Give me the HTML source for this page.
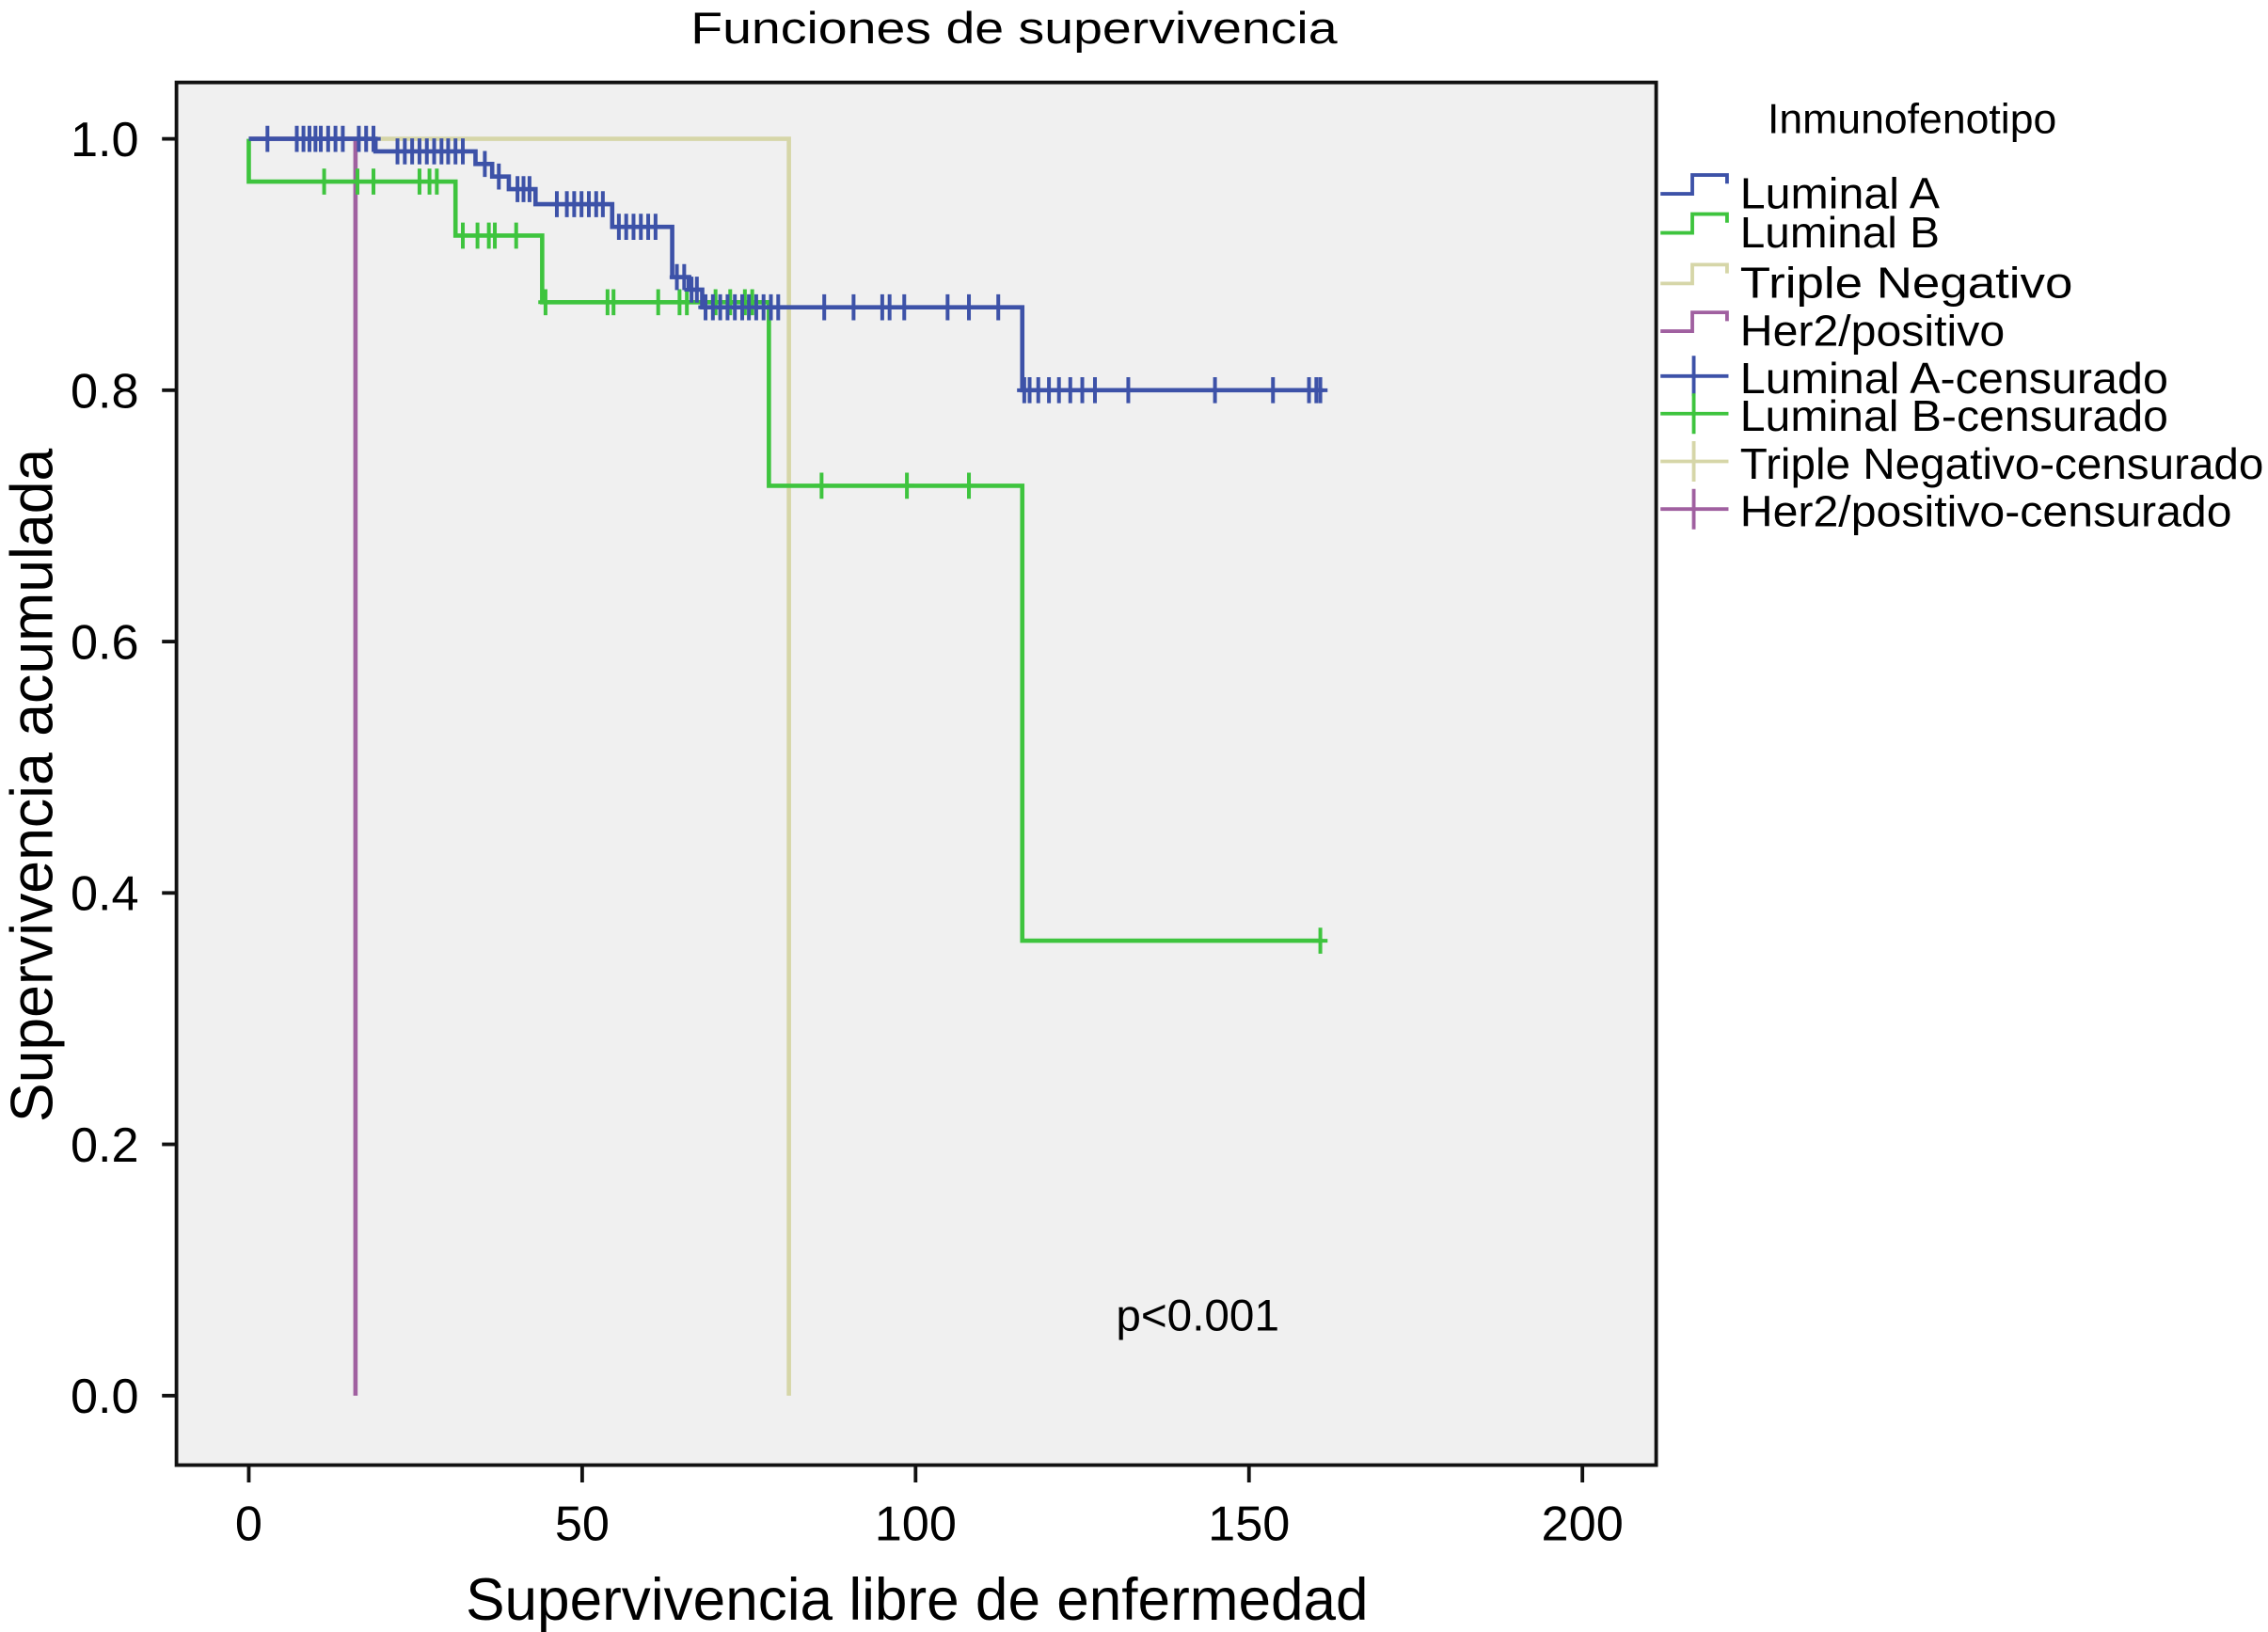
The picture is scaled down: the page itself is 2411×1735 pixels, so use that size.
<!DOCTYPE html>
<html><head><meta charset="utf-8"><style>html,body{margin:0;padding:0;background:#fff}svg{display:block}text{font-family:"Liberation Sans",Arial,sans-serif;fill:#000}</style></head>
<body>
<svg id="chart" width="2411" height="1735" viewBox="0 0 1568 1128.4" preserveAspectRatio="none" xmlns="http://www.w3.org/2000/svg">
<rect x="122" y="57" width="1023" height="956" fill="#f0f0f0" stroke="#111" stroke-width="2.5"/>
<text x="701" y="30" font-size="31" text-anchor="middle" textLength="447" lengthAdjust="spacingAndGlyphs">Funciones de supervivencia</text>
<text x="634" y="1120" font-size="41" text-anchor="middle" textLength="624" lengthAdjust="spacingAndGlyphs">Supervivencia libre de enfermedad</text>
<text transform="translate(36,543) rotate(-90)" font-size="41" text-anchor="middle" textLength="466" lengthAdjust="spacingAndGlyphs">Supervivencia acumulada</text>
<text x="828" y="920" font-size="31" text-anchor="middle">p&lt;0.001</text>
<g id="axes"></g>
<g id="series"></g>
<g id="legend"></g>
</svg>
<script>
const xTicks = [0, 50, 100, 150, 200];
const yTicks = [0.0, 0.2, 0.4, 0.6, 0.8, 1.0];
const seriesNames = ["Luminal A", "Luminal B", "Triple Negativo", "Her2/positivo"];
const seriesColors = ["#3d52a8", "#3ec43e", "#d6d6a8", "#a060a0"];
const lumA_t = [0, 19, 34, 36.5, 39, 43, 54.5, 63.5, 66, 68, 116, 161];
const lumA_s = [1.0, 0.99, 0.98, 0.97, 0.96, 0.948, 0.93, 0.89, 0.88, 0.866, 0.80, 0.80];
const lumB_t = [0, 0, 31, 44, 78, 116, 161];
const lumB_s = [1.0, 0.966, 0.923, 0.87, 0.724, 0.362, 0.362];
const tn_t = [0, 81, 81];
const tn_s = [1.0, 1.0, 0.0];
const her_t = [0, 16, 16];
const her_s = [1.0, 1.0, 0.0];
const lumA_cens_t = [2.8,7.2,8.2,9.1,10,10.8,11.9,13,14.1,16.5,17.6,18.7,22.3,23.4,24.5,25.6,26.7,27.8,28.9,29.9,31,32.1,35.4,37.5,40.3,41.2,42.1,46.2,47.7,48.8,49.9,51,52.1,53.1,55.5,56.6,57.7,58.8,59.9,61,64.2,65.3,66.4,67.2,68.5,69.6,70.7,71.8,72.9,74,75,76.1,77.2,78.3,79.4,86.3,90.7,95,96.1,98.3,104.8,108,112.4,116.3,117.1,118.4,120,121.5,123.2,125,126.9,131.9,144.9,153.6,159,160.1,160.7];
const lumB_cens_t = [11.3,16.3,18.7,25.6,27.1,28.2,32.1,34.3,36,36.9,40.1,44.5,53.8,54.7,61.4,64.6,65.7,70,72.2,74.4,75.5,85.9,98.7,108,160.7];

const NS = "http://www.w3.org/2000/svg";
const X = t => 172 + t * (1094 - 172) / 200;
const Y = s => 965 - s * (965 - 96);
function mk(tag, attrs, parent) {
  const e = document.createElementNS(NS, tag);
  for (const k in attrs) e.setAttribute(k, attrs[k]);
  parent.appendChild(e);
  return e;
}
const axes = document.getElementById('axes');
xTicks.forEach(v => {
  const l = mk('line', {x1: X(v), x2: X(v), y1: 1013, y2: 1025, stroke: '#111', 'stroke-width': 2.5}, axes);
  
  
  const t = mk('text', {x: X(v), y: 1065, 'font-size': 34, 'text-anchor': 'middle'}, axes);
  t.textContent = String(v);
  
  
});
yTicks.forEach(v => {
  const l = mk('line', {x1: 112, x2: 122, y1: Y(v), y2: Y(v), stroke: '#111', 'stroke-width': 2.5}, axes);
  
  
  const t = mk('text', {x: 96, y: Y(v) + 12, 'font-size': 34, 'text-anchor': 'end'}, axes);
  t.textContent = v.toFixed(1);
  
  
});
function stepPath(ts, ss) {
  let d = 'M' + X(ts[0]) + ',' + Y(ss[0]);
  for (let i = 1; i < ts.length; i++) {
    d += ' L' + X(ts[i]) + ',' + Y(ss[i - 1]) + ' L' + X(ts[i]) + ',' + Y(ss[i]);
  }
  return d;
}
function survAt(ts, ss, t) {
  let s = ss[0];
  for (let i = 0; i < ts.length; i++) if (ts[i] <= t) s = ss[i];
  return s;
}
const sg = document.getElementById('series');
const curves = [[tn_t, tn_s, 2, 'triple-negativo-curve'], [her_t, her_s, 3, 'her2-positivo-curve'], [lumB_t, lumB_s, 1, 'luminal-b-curve'], [lumA_t, lumA_s, 0, 'luminal-a-curve']];
curves.forEach(c => {
  const p = mk('path', {d: stepPath(c[0], c[1]), fill: 'none', stroke: seriesColors[c[2]], 'stroke-width': 3}, sg);
  
  
});
function censors(times, ts, ss, color, name) {
  times.forEach(t => {
    const s = survAt(ts, ss, t);
    const e = mk('path', {d: 'M' + X(t) + ',' + (Y(s) - 9) + ' V' + (Y(s) + 9) + ' M' + (X(t) - 5) + ',' + Y(s) + ' H' + (X(t) + 5), stroke: color, 'stroke-width': 2.6, fill: 'none'}, sg);
    
    
  });
}
censors(lumB_cens_t, lumB_t, lumB_s, seriesColors[1], 'luminal-b-censor-mark');
censors(lumA_cens_t, lumA_t, lumA_s, seriesColors[0], 'luminal-a-censor-mark');

const lg = document.getElementById('legend');
const lt = mk('text', {x: 1222, y: 92, 'font-size': 29}, lg);
lt.textContent = 'Inmunofenotipo';


const legendLabels = ["Luminal A", "Luminal B", "Triple Negativo", "Her2/positivo", "Luminal A-censurado", "Luminal B-censurado", "Triple Negativo-censurado", "Her2/positivo-censurado"];
const legendBase = [144, 171, 206, 239, 272, 298, 331, 364];
const legendWidths = [138, 138, 230, 183, 296, 296, 362, 340];
legendLabels.forEach((lab, i) => {
  const col = seriesColors[i % 4];
  const b = legendBase[i];
  let d;
  if (i < 4) d = 'M1148,' + (b - 10) + ' H1170 V' + (b - 23) + ' H1194 V' + (b - 17);
  else d = 'M1148,' + (b - 12) + ' H1195 M1171,' + (b - 26) + ' V' + (b + 2);
  const sym = mk('path', {d: d, stroke: col, 'stroke-width': 2.5, fill: 'none'}, lg);
  
  
  const t = mk('text', {x: 1203, y: b, 'font-size': 30, textLength: legendWidths[i], lengthAdjust: 'spacingAndGlyphs'}, lg);
  t.textContent = lab;
  
  
});
</script>
</body></html>
